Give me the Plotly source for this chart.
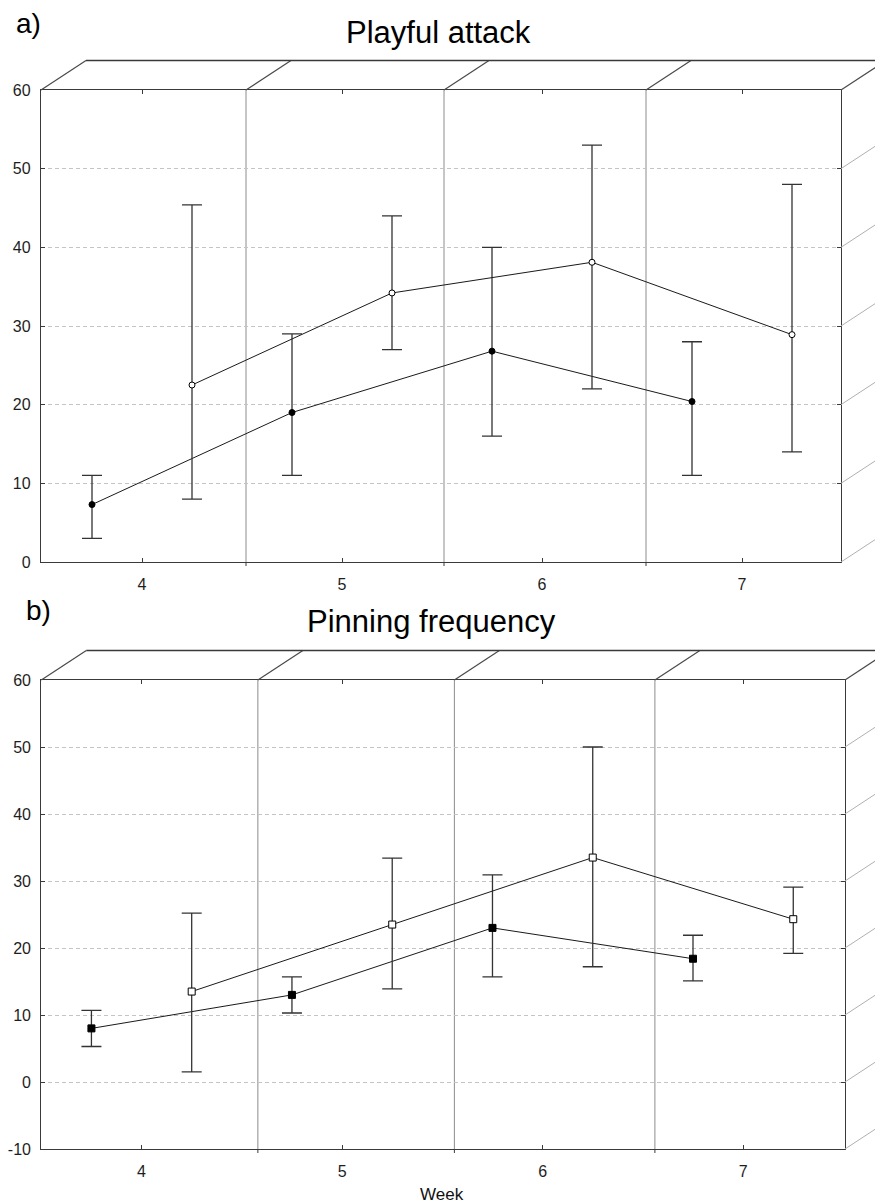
import plotly.graph_objects as go

# ---------------- data ----------------
weeks_tick = [4, 5, 6, 7]
tick_labels = ["4", "5", "6", "7"]

# Panel a) Playful attack
a_filled_x = [3.75, 4.75, 5.75, 6.75]
a_filled_y = [7.3, 19.0, 26.8, 20.4]
a_filled_lo = [3.0, 11.0, 16.0, 11.0]
a_filled_hi = [11.0, 29.0, 40.0, 28.0]

a_open_x = [4.25, 5.25, 6.25, 7.25]
a_open_y = [22.5, 34.2, 38.1, 28.9]
a_open_lo = [8.0, 27.0, 22.0, 14.0]
a_open_hi = [45.4, 44.0, 53.0, 48.0]

a_separators = [4.52, 5.51, 6.52]
a_yticks = [0, 10, 20, 30, 40, 50, 60]

# Panel b) Pinning frequency
b_filled_x = [3.75, 4.75, 5.75, 6.75]
b_filled_y = [8.0, 13.0, 23.0, 18.4]
b_filled_lo = [5.3, 10.3, 15.7, 15.1]
b_filled_hi = [10.7, 15.7, 30.9, 21.9]

b_open_x = [4.25, 5.25, 6.25, 7.25]
b_open_y = [13.5, 23.5, 33.5, 24.3]
b_open_lo = [1.5, 13.9, 17.2, 19.2]
b_open_hi = [25.2, 33.4, 50.0, 29.1]

b_separators = [4.58, 5.56, 6.56]
b_yticks = [-10, 0, 10, 20, 30, 40, 50, 60]

# ---------------- layout geometry (pixels) ----------------
W, H = 875, 1203
FONT = "Liberation Sans, Arial, sans-serif"
DX, DY = 45, 29.5  # 3D depth offset

panels = {
    "a": dict(x0=41, x1=841, y_top=90, y_bot=562, xr=[3.495, 7.495], yr=[0, 60]),
    "b": dict(x0=41.3, x1=845, y_top=680, y_bot=1149, xr=[3.5, 7.508], yr=[-10, 60]),
}


def px2paper_x(px):
    return px / W


def px2paper_y(py):
    return 1 - py / H


def data2px(p, x=None, y=None):
    out = []
    if x is not None:
        out.append(p["x0"] + (x - p["xr"][0]) / (p["xr"][1] - p["xr"][0]) * (p["x1"] - p["x0"]))
    if y is not None:
        out.append(p["y_bot"] - (y - p["yr"][0]) / (p["yr"][1] - p["yr"][0]) * (p["y_bot"] - p["y_top"]))
    return out


fig = go.Figure()


def add_series(x, y, lo, hi, symbol, filled, size, xa, ya):
    fig.add_trace(go.Scatter(
        x=x, y=y, mode="lines+markers", xaxis=xa, yaxis=ya,
        line=dict(color="#1a1a1a", width=1),
        marker=dict(symbol=symbol, size=size,
                    color="#000000" if filled else "#ffffff",
                    line=dict(color="#000000", width=1)),
        error_y=dict(type="data", symmetric=False,
                     array=[h - v for h, v in zip(hi, y)],
                     arrayminus=[v - l for v, l in zip(y, lo)],
                     color="#333333", thickness=1.3, width=10),
        showlegend=False, cliponaxis=False,
    ))


add_series(a_filled_x, a_filled_y, a_filled_lo, a_filled_hi, "circle", True, 6, "x", "y")
add_series(a_open_x, a_open_y, a_open_lo, a_open_hi, "circle", False, 6, "x", "y")
add_series(b_filled_x, b_filled_y, b_filled_lo, b_filled_hi, "square", True, 7, "x2", "y2")
add_series(b_open_x, b_open_y, b_open_lo, b_open_hi, "square", False, 7, "x2", "y2")

shapes = []
frame_col = "#3a3a3a"
light_col = "#b0b0b0"


def decorate(key, seps, yticks, xref, yref):
    p = panels[key]
    # vertical separators
    for s in seps:
        shapes.append(dict(type="line", xref=xref, yref=yref + " domain", x0=s, x1=s, y0=0, y1=1,
                           line=dict(color="#8c8c8c", width=1), layer="below"))
        sx = data2px(p, x=s)[0]
        # small outside tick on bottom
        shapes.append(dict(type="line", xref="paper", yref="paper",
                           x0=px2paper_x(sx), x1=px2paper_x(sx),
                           y0=px2paper_y(p["y_bot"]), y1=px2paper_y(p["y_bot"] + 4),
                           line=dict(color=frame_col, width=1)))
    # top face
    xs_diag = [p["x0"]] + [data2px(p, x=s)[0] for s in seps] + [p["x1"]]
    for xp in xs_diag:
        shapes.append(dict(type="line", xref="paper", yref="paper",
                           x0=px2paper_x(xp), y0=px2paper_y(p["y_top"]),
                           x1=px2paper_x(xp + DX), y1=px2paper_y(p["y_top"] - DY),
                           line=dict(color="#4a4a4a", width=1.2)))
    shapes.append(dict(type="line", xref="paper", yref="paper",
                       x0=px2paper_x(p["x0"] + DX), y0=px2paper_y(p["y_top"] - DY),
                       x1=px2paper_x(p["x1"] + DX + 10), y1=px2paper_y(p["y_top"] - DY),
                       line=dict(color="#3a3a3a", width=1.3)))
    # right face slants at gridlines
    for t in yticks[:-1]:
        yp = data2px(p, y=t)[0]
        shapes.append(dict(type="line", xref="paper", yref="paper",
                           x0=px2paper_x(p["x1"]), y0=px2paper_y(yp),
                           x1=px2paper_x(p["x1"] + DX), y1=px2paper_y(yp - DY),
                           line=dict(color=light_col, width=1)))


decorate("a", a_separators, a_yticks, "x", "y")
decorate("b", b_separators, b_yticks, "x2", "y2")


def xaxis_cfg(p, anchor):
    return dict(domain=[px2paper_x(p["x0"]), px2paper_x(p["x1"])], range=p["xr"], anchor=anchor,
                tickvals=weeks_tick, ticktext=tick_labels, ticks="inside", ticklen=4,
                tickcolor=frame_col, showline=True, linecolor=frame_col, linewidth=1.3,
                mirror="ticks", showgrid=False, zeroline=False,
                tickfont=dict(family=FONT, size=16, color="#1e1e1e"), ticklabelstandoff=8)


def yaxis_cfg(p, anchor, ticks):
    return dict(domain=[px2paper_y(p["y_bot"]), px2paper_y(p["y_top"])], range=p["yr"], anchor=anchor,
                tickvals=ticks, ticktext=[str(t) for t in ticks], ticks="inside", ticklen=4,
                tickcolor=frame_col, showline=True, linecolor=frame_col, linewidth=1.3,
                mirror="ticks", showgrid=True, gridcolor="#c4c4c4", griddash="4px,3px",
                gridwidth=1, zeroline=False,
                tickfont=dict(family=FONT, size=16, color="#1e1e1e"), ticklabelstandoff=6)


annotations = [
    dict(text="a)", x=px2paper_x(28), y=px2paper_y(24), font=dict(family=FONT, size=28, color="#000")),
    dict(text="Playful attack", x=px2paper_x(439), y=px2paper_y(32), font=dict(family=FONT, size=31, color="#000")),
    dict(text="b)", x=px2paper_x(38), y=px2paper_y(610), font=dict(family=FONT, size=28, color="#000")),
    dict(text="Pinning frequency", x=px2paper_x(431), y=px2paper_y(621), font=dict(family=FONT, size=31, color="#000")),
    dict(text="Week", x=px2paper_x(441.5), y=px2paper_y(1194.5), font=dict(family=FONT, size=17, color="#111")),
]
for a in annotations:
    a.update(xref="paper", yref="paper", showarrow=False, xanchor="center", yanchor="middle")

fig.update_layout(
    width=W, height=H, margin=dict(l=0, r=0, t=0, b=0, autoexpand=False),
    paper_bgcolor="white", plot_bgcolor="white",
    xaxis=xaxis_cfg(panels["a"], "y"),
    yaxis=yaxis_cfg(panels["a"], "x", a_yticks),
    xaxis2=xaxis_cfg(panels["b"], "y2"),
    yaxis2=yaxis_cfg(panels["b"], "x2", b_yticks),
    shapes=shapes, annotations=annotations,
)

fig.write_html(
    "out.html",
    config={"displayModeBar": False},
    post_script="document.body.style.margin='0';document.body.style.padding='0';document.body.style.overflow='hidden';",
)
